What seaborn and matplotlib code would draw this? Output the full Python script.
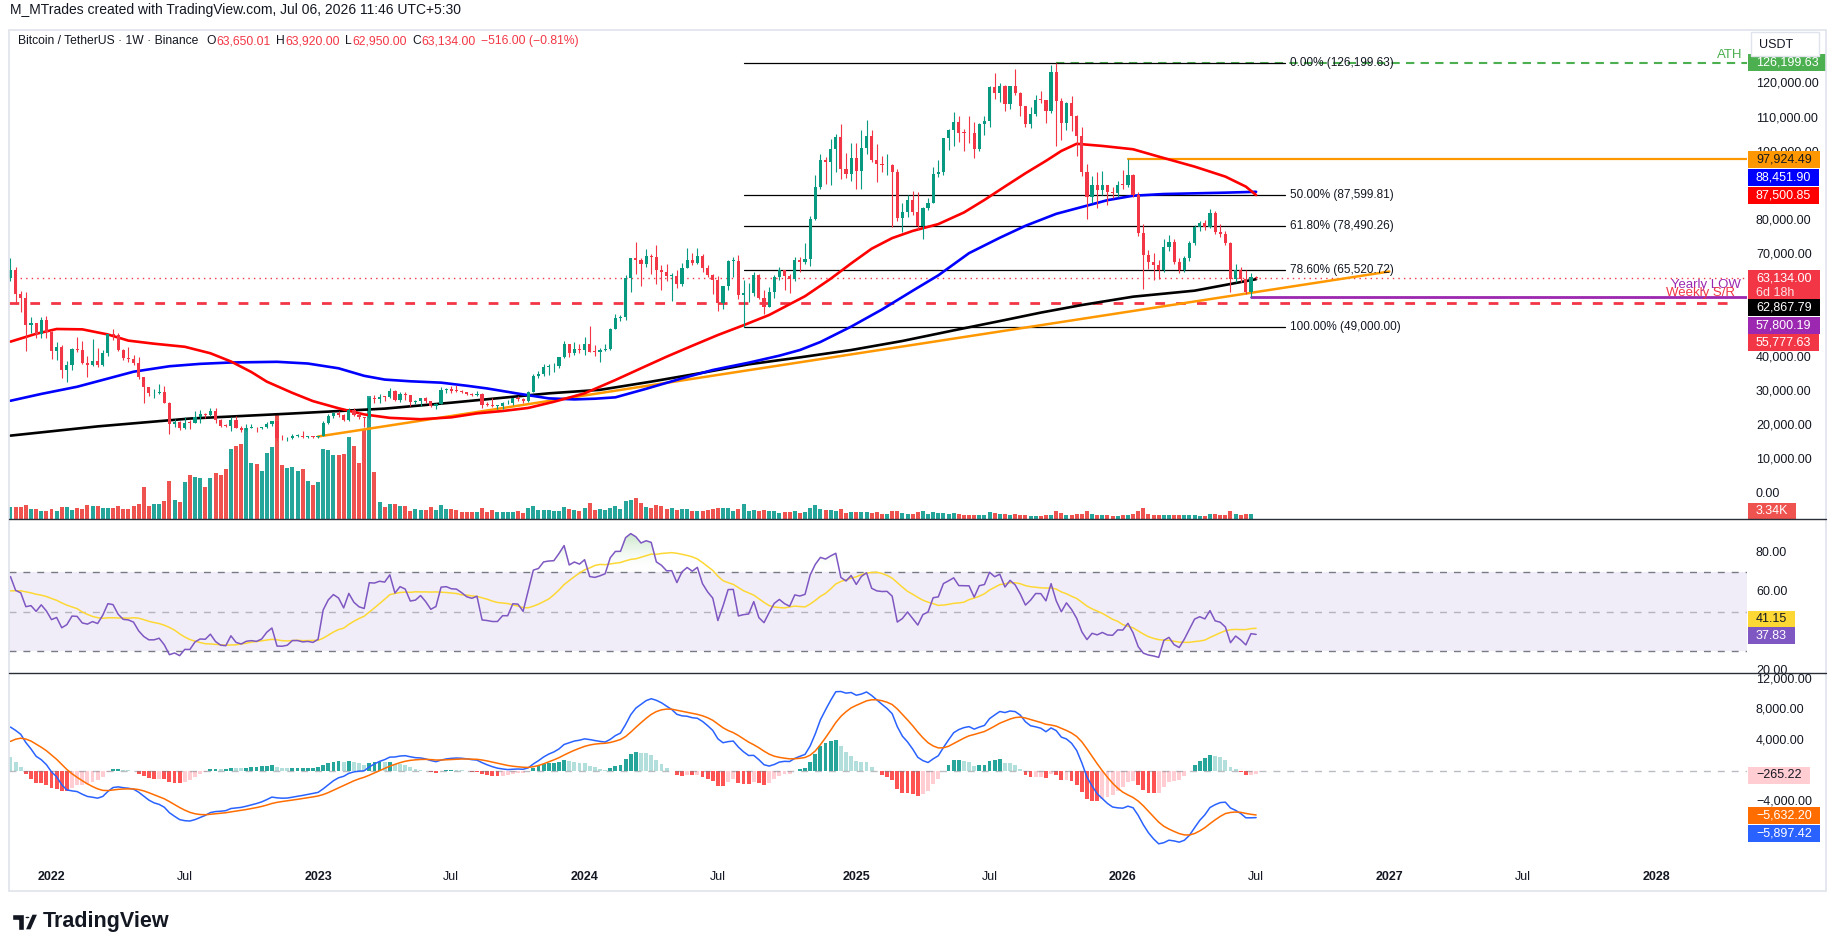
import numpy as np
import pandas as pd
import matplotlib.pyplot as plt
import matplotlib.transforms as mtransforms
from matplotlib.patches import Rectangle, Circle, Polygon
from matplotlib.path import Path
from matplotlib.colors import LinearSegmentedColormap
import seaborn as sns

# ---------------------------------------------------------------- data
START = pd.Timestamp("2021-11-08")      # first weekly candle
first_open = 63300

closes = [
    65500, 58600, 57300, 49400, 50100, 46700, 50800, 47300, 41900, 43100,
    36300, 37900, 42400, 42200, 38400, 37700, 38800, 37800, 41300, 46800,
    46400, 42150, 39700, 39450, 38450, 34300, 31300, 29450, 29450, 29900,
    26600, 20550, 21000, 19300, 20850, 20800, 22600, 23300, 23180, 24300,
    21530, 20050, 19830, 21800, 19420, 18800, 19310, 19420, 19200, 19570,
    20630, 21300, 16330, 16280, 16430, 17100, 17100, 16780, 16840, 16620,
    16950, 20880, 22700, 23750, 23250, 21770, 24600, 23180, 22430, 22150,
    28000, 27950, 28450, 28330, 30300, 27600, 29230, 28850, 26900, 27100,
    28050, 27100, 25850, 26340, 30470, 30600, 30300, 30250, 29800, 29270,
    29070, 29400, 26100, 26000, 25850, 25850, 26530, 26530, 27970, 27930,
    27150, 29990, 34530, 35000, 37050, 37350, 37450, 39970, 43800, 41400,
    42550, 42280, 43950, 41700, 41580, 42030, 42580, 48300, 51650, 51700,
    63120, 68950, 68350, 67200, 69650, 69350, 65650, 64950, 63850, 63900,
    61550, 66250, 68500, 67750, 69650, 66200, 64250, 62700, 55850, 60800,
    68150, 68250, 58150, 58700, 58950, 64200, 57300, 54850, 59150, 63600,
    65600, 63900, 62850, 68350, 67950, 68750, 80370, 89850, 97900, 97300,
    101100, 104450, 95200, 93700, 98300, 94500, 101300, 104700, 97700, 96450,
    96150, 96250, 94250, 80750, 82600, 86100, 82400, 78350, 83750, 85150,
    93750, 94300, 104100, 106450, 109000, 105650, 105600, 105550, 100950, 108350,
    109200, 119100, 117300, 119400, 114250, 119300, 117400, 113500, 108250, 111150,
    115300, 115250, 112150, 123500, 115100, 108650, 114550, 110550, 104700, 94200,
    86800, 90400, 89000, 90300, 88300, 88000, 90500, 90400, 93400, 87500,
    76500, 70000, 68000, 67000, 65600, 72400, 73700, 68000, 65600, 69000,
    73400, 78200, 79400, 78200, 82200, 76800, 76000, 73400, 62800, 65600,
    62800, 59000, 63650.01, 63134.00,
]
highs = [
    69000, 66300, 59500, 59200, 51900, 50100, 51900, 52100, 47600, 44500,
    43500, 38900, 42700, 45850, 44750, 40300, 45400, 42600, 42300, 46950,
    48200, 47200, 42400, 42900, 40800, 40000, 34300, 31300, 30650, 32200,
    31700, 26800, 21850, 21500, 22500, 21650, 24300, 24650, 23650, 25200,
    25200, 21880, 20580, 22500, 22800, 19950, 20400, 20450, 19550, 19700,
    21080, 21480, 21480, 17190, 16810, 17430, 17430, 18400, 17000, 16970,
    17000, 21260, 23370, 23950, 24250, 23430, 25250, 25100, 23880, 22600,
    28400, 28900, 29200, 28800, 31000, 30500, 30000, 29800, 28900, 27650,
    28200, 28450, 27250, 26500, 31400, 31000, 31500, 31800, 30450, 29900,
    29500, 30250, 29650, 26800, 28150, 26100, 27050, 27450, 28050, 28600,
    28000, 30300, 35200, 35980, 37980, 37980, 38450, 40000, 44700, 43850,
    44400, 43800, 45900, 49050, 43580, 42850, 43880, 48600, 52800, 52500,
    64000, 69200, 73780, 68950, 71750, 70300, 72800, 66900, 67200, 64750,
    65500, 67700, 71950, 70600, 71950, 70200, 66900, 64500, 63850, 61000,
    68350, 69400, 70000, 62750, 61800, 65000, 64500, 59800, 60700, 64150,
    66500, 65600, 64500, 69400, 69500, 73600, 81500, 93400, 99600, 98700,
    104000, 105250, 108350, 99950, 102700, 102700, 106400, 109600, 106450, 102500,
    98800, 99500, 96500, 95000, 85300, 87450, 88750, 88500, 84000, 86500,
    95750, 97900, 104300, 106700, 111950, 110700, 106800, 110500, 108900, 108500,
    110500, 119500, 123200, 120250, 119600, 119500, 124450, 117650, 113650, 113400,
    116700, 117900, 115400, 125700, 126199.63, 115950, 114600, 116400, 110800, 107500,
    96650, 93100, 94200, 94500, 90500, 90000, 91500, 94800, 97924.49, 93700,
    88500, 79000, 71500, 70500, 68500, 74500, 75800, 74500, 69000, 69800,
    74000, 78800, 80000, 80200, 83500, 82800, 78900, 77000, 73700, 67200,
    66500, 65500, 64700, 63920,
]
lows = [
    62300, 55600, 53300, 42000, 47100, 45600, 45600, 45700, 39650, 39300,
    34000, 32900, 36250, 41600, 38000, 34300, 37450, 37200, 37600, 40500,
    45200, 42000, 39200, 38500, 37700, 33700, 26700, 28600, 28000, 29300,
    26560, 17600, 19650, 18600, 19000, 18900, 20750, 20700, 22400, 22700,
    20750, 19550, 19550, 18550, 19300, 18150, 18450, 19250, 18200, 18900,
    19250, 20050, 15600, 15800, 15480, 16000, 16750, 16530, 16400, 16330,
    16520, 16900, 20400, 22300, 22500, 21450, 21350, 22800, 21950, 19550,
    21900, 26600, 26500, 27200, 28170, 27100, 26950, 27650, 25800, 26400,
    25900, 26500, 25350, 24800, 26250, 29500, 29700, 29950, 29550, 28850,
    28600, 28700, 25150, 25800, 25350, 24900, 24900, 26350, 26000, 27200,
    26550, 27000, 29900, 34000, 34500, 34800, 35600, 36900, 39950, 40200,
    40550, 41300, 40750, 41500, 40280, 38550, 41850, 42250, 48200, 50500,
    50900, 59000, 64500, 60750, 66400, 64500, 61500, 59600, 62400, 56550,
    60200, 60750, 66100, 67100, 67250, 65050, 63400, 58400, 53500, 54250,
    59700, 63400, 57100, 49000, 56100, 57850, 57200, 52550, 54600, 57500,
    62650, 59800, 58900, 62450, 65050, 67450, 66800, 80200, 89400, 90800,
    90500, 94150, 92200, 92550, 91500, 89250, 89250, 99500, 97100, 91200,
    94100, 93400, 78250, 80000, 76600, 81150, 81600, 77150, 74500, 83100,
    85150, 92800, 93400, 100700, 102000, 103000, 100400, 102700, 98200, 100300,
    105200, 107500, 115700, 114700, 112000, 112650, 116800, 110600, 107300, 107250,
    110600, 114400, 108600, 111550, 102000, 103550, 106650, 106300, 98950, 93000,
    80600, 85300, 83800, 87500, 84500, 86500, 86800, 89200, 90000, 86800,
    75500, 59900, 66000, 62600, 62800, 65000, 71000, 67200, 64800, 65000,
    68300, 72800, 77000, 77300, 77800, 76000, 75200, 72800, 59200, 62000,
    62000, 58500, 57800.19, 62950,
]
volume_k = [
    340, 340, 340, 410, 300, 300, 245, 245, 300, 245,
    360, 360, 270, 330, 300, 410, 390, 390, 330, 330,
    330, 390, 300, 300, 390, 445, 940, 390, 445, 445,
    535, 1115, 560, 505, 1075, 1280, 1230, 1200, 940, 1200,
    1350, 1280, 1465, 2045, 2135, 2190, 2660, 1640, 1610, 1405,
    1930, 2105, 3065, 1580, 1495, 1520, 1405, 1465, 1115, 1000,
    1085, 2045, 2020, 1870, 1870, 1900, 2395, 2135, 1640, 2600,
    3590, 1380, 505, 360, 445, 445, 390, 390, 245, 300,
    270, 270, 360, 270, 415, 300, 300, 270, 215, 215,
    215, 215, 330, 215, 270, 215, 215, 215, 215, 245,
    185, 330, 390, 270, 270, 270, 245, 245, 360, 300,
    270, 245, 330, 475, 270, 300, 260, 330, 380, 300,
    520, 560, 600, 480, 360, 330, 420, 380, 300, 330,
    260, 280, 280, 230, 230, 240, 250, 280, 330, 330,
    310, 220, 300, 450, 240, 250, 220, 250, 240, 220,
    180, 200, 190, 220, 180, 200, 330, 420, 300, 250,
    270, 230, 280, 180, 200, 200, 210, 200, 180, 200,
    150, 140, 230, 230, 180, 140, 140, 190, 220, 150,
    200, 170, 170, 160, 180, 150, 120, 130, 130, 120,
    110, 190, 180, 150, 140, 120, 150, 120, 130, 100,
    100, 100, 110, 130, 230, 180, 120, 110, 150, 160,
    230, 150, 120, 110, 110, 80, 90, 110, 130, 140,
    230, 330, 140, 130, 120, 130, 110, 120, 110, 110,
    120, 110, 100, 100, 140, 140, 110, 120, 240, 150,
    120, 140, 150, 3.34,
]

# moving averages (week index, price)
ma50_idx = [0, 5, 9, 14, 19, 23, 28, 34, 39, 43, 47, 50, 55, 59, 64, 69, 74, 80, 86, 91,
            96, 101, 106, 112, 118, 123, 128, 133, 138, 143, 148, 155, 160, 164, 168, 172,
            176, 181, 186, 190, 194, 198, 202, 205, 208, 213, 219, 224, 231, 237, 241, 243]
ma50_val = [44600, 46900, 48300, 48200, 46700, 44900, 44000, 43100, 41200, 38800, 35700,
            32900, 29600, 27200, 25100, 23300, 22300, 21900, 22450, 23600, 24300, 25200,
            27000, 29470, 33370, 36800, 40200, 43400, 46540, 49400, 52400, 57900, 63000,
            67500, 71800, 74900, 77000, 79000, 82400, 86070, 90000, 93870, 97500, 100400,
            102500, 101870, 100900, 98750, 95820, 92900, 89970, 87500.85]
ma100_idx = [0, 6, 13, 19, 24, 31, 37, 43, 52, 58, 64, 69, 73, 78, 84, 89, 93, 99, 105,
             110, 114, 118, 124, 131, 137, 144, 150, 154, 158, 164, 170, 176, 181, 187,
             193, 198, 204, 209, 214, 219, 225, 231, 237, 243]
ma100_val = [27300, 29300, 31400, 33800, 35800, 37400, 38100, 38500, 38700, 38200, 36800,
             34600, 33500, 33000, 32600, 31700, 30900, 29400, 28000, 27700, 27900, 28300,
             30800, 33860, 36300, 38440, 40500, 42150, 44500, 49000, 54000, 59500, 64000,
             70500, 75000, 78500, 82000, 84000, 86000, 87300, 87800, 88000, 88200, 88451.90]
ma200_idx = [0, 17, 35, 54, 73, 86, 105, 115, 125, 135, 144, 154, 164, 174, 184, 194,
             201, 209, 219, 231, 243]
ma200_val = [17100, 19800, 22100, 23500, 25000, 26740, 29470, 30500, 32900, 35500, 37960,
             40000, 42150, 44800, 47900, 50930, 53100, 55320, 57760, 59520, 62867.79]

trend_idx = [60, 269]
trend_val = [16840, 65130]

fib_names = ["0.00%", "50.00%", "61.80%", "78.60%", "100.00%"]
fib_prices = [126199.63, 87599.81, 78490.26, 65520.72, 49000.00]
fib_from, fib_to = 143, 248.6

ath_idx, ath_price = 204, 126199.63
range_idx, range_high = 218, 97924.49
weekly_sr = 55777.63
low_idx, yearly_low = 242, 57800.19
last_close = 63134.00

rsi_seed = (3200, 1600)          # Wilder avg gain / loss before first bar
rsi_ma_seed = 60
macd_seed = (57500, 52000, 3400)  # ema12, ema26, signal before first bar

# ---------------------------------------------------------------- indicators
close = np.array(closes, float)
opens = np.r_[first_open, close[:-1]]
n = len(close)
x = np.arange(n)

delta = close - opens
ag, al = rsi_seed
rsi = []
for d in delta:
    ag = (ag * 13 + max(d, 0)) / 14
    al = (al * 13 + max(-d, 0)) / 14
    rsi.append(100 - 100 / (1 + ag / al))
rsi = np.array(rsi)
rsi_ma = pd.Series(np.r_[[rsi_ma_seed] * 13, rsi]).rolling(14).mean().to_numpy()[13:]

e12, e26, sig = macd_seed
macd, signal = [], []
for c in close:
    e12 += (c - e12) * 2 / 13
    e26 += (c - e26) * 2 / 27
    m = e12 - e26
    sig += (m - sig) * 2 / 10
    macd.append(m)
    signal.append(sig)
macd, signal = np.array(macd), np.array(signal)
hist = macd - signal

# ---------------------------------------------------------------- style
W, H = 1835, 951
UP, DN = "#089981", "#F23645"
TXT = "#131722"

sns.set_style("white")
plt.rcParams["font.family"] = ["Liberation Sans", "DejaVu Sans"]

fig = plt.figure(figsize=(W / 100, H / 100), dpi=100)
fig.patch.set_facecolor("white")

PX0, PX1, SX1 = 8.5, 1747, 1826
XLIM = ((PX0 - 51.5) / 5.126 + 8, (PX1 - 51.5) / 5.126 + 8)
PANES = {"price": (30, 519), "rsi": (519, 673), "macd": (673, 866)}


def add_pane(top, bottom, x0=PX0, x1=PX1):
    ax = fig.add_axes([x0 / W, 1 - bottom / H, (x1 - x0) / W, (bottom - top) / H])
    ax.axis("off")
    return ax


ax_v = add_pane(*PANES["price"])
ax_p = add_pane(*PANES["price"])
ax_r = add_pane(*PANES["rsi"])
ax_m = add_pane(*PANES["macd"])
for a in (ax_v, ax_p, ax_r, ax_m):
    a.set_xlim(XLIM)

# ---------------------------------------------------------------- volume
vol = np.array(volume_k)
up = close >= opens
ax_v.bar(x, vol, width=0.78, color=np.where(up, "#26A69A", "#EF5350"), lw=0)
ax_v.set_ylim(0, 3590 * 489 / 123)

# ---------------------------------------------------------------- price pane
ax_p.set_ylim(-7300, 135800)

ax_p.axhline(last_close, color=DN, lw=1, ls=(0, (1, 3)), zorder=2)
ax_p.plot([XLIM[0], 337], [weekly_sr] * 2, color=DN, lw=2, ls=(0, (3.5, 4)), zorder=2)
ax_p.plot([ath_idx, XLIM[1]], [ath_price] * 2, color="#4CAF50", lw=1.5,
          ls=(0, (4, 3)), zorder=2)
ax_p.plot([range_idx, XLIM[1]], [range_high] * 2, color="#FF9800", lw=1.6, zorder=2)
ax_p.plot([low_idx, XLIM[1]], [yearly_low] * 2, color="#9C27B0", lw=2, zorder=2)

for name, lvl in zip(fib_names, fib_prices):
    ax_p.plot([fib_from, fib_to], [lvl, lvl], color="black", lw=0.9, zorder=2)
    ax_p.text(fib_to + 1.1, lvl, f"{name} ({lvl:,.2f})", fontsize=8.5, color=TXT,
              va="center", ha="left", zorder=6)

sns.lineplot(x=trend_idx, y=trend_val, ax=ax_p, color="#FF9800", lw=1.8, zorder=3)
sns.lineplot(x=ma200_idx, y=ma200_val, ax=ax_p, color="black", lw=1.9, zorder=3)
sns.lineplot(x=ma100_idx, y=ma100_val, ax=ax_p, color="#0000FF", lw=1.9, zorder=3)
sns.lineplot(x=ma50_idx, y=ma50_val, ax=ax_p, color="#FF0000", lw=1.9, zorder=3)

col = np.where(up, UP, DN)
ax_p.vlines(x, lows, highs, colors=col, lw=0.8, zorder=4)
body_lo = np.minimum(opens, close)
body_h = np.maximum(np.abs(close - opens), 250)
ax_p.bar(x, body_h, bottom=body_lo, width=0.62, color=col, lw=0, zorder=5)

ax_p.text(337.9, ath_price + 400, "ATH", color="#4CAF50", fontsize=9.5,
          ha="right", va="bottom")
ax_p.text(337.5, 61200, "Yearly LOW", color="#9C27B0", fontsize=9.5,
          ha="right", va="center", zorder=6)
ax_p.text(336.5, 58900, "Weekly S/R", color=DN, fontsize=9.5, ha="right",
          va="center", zorder=6)
ax_p.set_xlim(XLIM)

# ---------------------------------------------------------------- RSI pane
ax_r.set_ylim(18.8, 97.1)
ax_r.axhspan(30, 70, color="#7E57C2", alpha=0.1, lw=0)
for lvl, a in ((70, 1.0), (50, 0.5), (30, 1.0)):
    ax_r.axhline(lvl, color="#787B86", lw=1, alpha=a, ls=(0, (5, 5)))


def gradient_fill(ax, xs, ys, level, above, rgba):
    mask = ys > level if above else ys < level
    coll = ax.fill_between(xs, ys, level, where=mask, interpolate=True,
                           color="none", lw=0)
    paths = [p for p in coll.get_paths() if len(p.vertices)]
    if not paths:
        return
    grad = np.linspace(0, 1, 256).reshape(-1, 1)
    if not above:
        grad = grad[::-1]
    cmap = LinearSegmentedColormap.from_list("g", [(1, 1, 1, 0), rgba])
    ext = [XLIM[0], XLIM[1], level, 100] if above else [XLIM[0], XLIM[1], 0, level]
    im = ax.imshow(grad, extent=ext, origin="lower", aspect="auto", cmap=cmap,
                   zorder=2)
    im.set_clip_path(Path.make_compound_path(*paths), transform=ax.transData)


gradient_fill(ax_r, x, rsi, 70, True, (0.30, 0.69, 0.31, 0.75))
gradient_fill(ax_r, x, rsi, 30, False, (0.95, 0.21, 0.27, 0.6))
sns.lineplot(x=x, y=rsi_ma, ax=ax_r, color="#FDD835", lw=1.1, zorder=3)
sns.lineplot(x=x, y=rsi, ax=ax_r, color="#7E57C2", lw=1.1, zorder=4)
ax_r.set_xlim(XLIM)
ax_r.set_ylim(18.8, 97.1)

# ---------------------------------------------------------------- MACD pane
ax_m.set_ylim(-12393, 12787)
ax_m.axhline(0, color="#787B86", lw=1, alpha=0.5, ls=(0, (5, 5)))
prev = np.r_[hist[0], hist[:-1]]
hcol = np.where(hist >= 0,
                np.where(hist > prev, "#26A69A", "#B2DFDB"),
                np.where(hist < prev, "#FF5252", "#FFCDD2"))
ax_m.bar(x, hist, width=0.75, color=hcol, lw=0)
sns.lineplot(x=x, y=macd, ax=ax_m, color="#2962FF", lw=1.1, zorder=3)
sns.lineplot(x=x, y=signal, ax=ax_m, color="#FF6D00", lw=1.1, zorder=3)
ax_m.set_xlim(XLIM)

# ---------------------------------------------------------------- frame & separators
fig.add_artist(Rectangle((PX0 / W, 1 - 891 / H), (SX1 - PX0) / W, (891 - 30) / H,
                         transform=fig.transFigure, fill=False, ec="#E0E3EB", lw=1.2))
for yy in (519, 673):
    fig.add_artist(plt.Line2D([PX0 / W, SX1 / W], [1 - yy / H] * 2, color="#2A2E39",
                              lw=1, transform=fig.transFigure))

# ---------------------------------------------------------------- price scales
renderer = fig.canvas.get_renderer()
ident = mtransforms.IdentityTransform()


def scale_axes(pane_ax, key):
    top, bottom = PANES[key]
    sax = add_pane(top, bottom, PX1, SX1)
    sax.set_xlim(0, 1)
    sax.set_ylim(pane_ax.get_ylim())
    return sax


def y_img(ax, v):
    return H - ax.transData.transform((0, v))[1]


def tick(sax, v, text):
    sax.text(1756, H - y_img(sax, v), text, transform=ident, fontsize=9, color=TXT,
             va="center", ha="left", zorder=2)


def tag(sax, v, lines, fc, tc, shift=0, yimg=None):
    yc = (y_img(sax, v) if yimg is None else yimg) + shift
    lh = 14.5
    texts = []
    for k, s in enumerate(lines):
        yy = yc + k * lh
        t = sax.text(1756, H - yy, s, transform=ident, fontsize=9, color=tc,
                     va="center", ha="left", zorder=6,
                     alpha=0.85 if k else 1)
        texts.append(t)
    wmax = max(t.get_window_extent(renderer).width for t in texts)
    h = 17 + (len(lines) - 1) * lh
    sax.add_patch(Rectangle((1748, H - (yc - 8.5) - h), wmax + 16, h, transform=ident,
                            fc=fc, ec="none", zorder=5))


sax_p = scale_axes(ax_p, "price")
sax_r = scale_axes(ax_r, "rsi")
sax_m = scale_axes(ax_m, "macd")

for v in (120000, 110000, 100000, 80000, 70000, 40000, 30000, 20000, 10000, 0):
    tick(sax_p, v, f"{v:,.2f}")
tag(sax_p, 126199.63, ["126,199.63"], "#4CAF50", "white")
tag(sax_p, 97924.49, ["97,924.49"], "#FF9800", TXT)
tag(sax_p, 88451.90, ["88,451.90"], "#0000FF", "white", shift=-14)
tag(sax_p, 87500.85, ["87,500.85"], "#FF0000", "white")
tag(sax_p, 63134.00, ["63,134.00", "6d 18h"], DN, "white")
tag(sax_p, 62867.79, ["62,867.79"], "black", "white", shift=28.5)
tag(sax_p, 57800.19, ["57,800.19"], "#9C27B0", "white", shift=28.5)
tag(sax_p, 55777.63, ["55,777.63"], DN, "white", shift=39)
tag(sax_p, 0, ["3.34K"], "#EF5350", "white", yimg=511)

for v in (80, 60, 20):
    tick(sax_r, v, f"{v:.2f}")
tag(sax_r, 41.15, ["41.15"], "#FDD835", TXT, shift=-9.7)
tag(sax_r, 37.83, ["37.83"], "#7E57C2", "white")

for v in (12000, 8000, 4000, -4000):
    tick(sax_m, v, f"{v:,.2f}".replace("-", "\u2212"))
tag(sax_m, -265.22, ["\u2212265.22"], "#FFCDD2", TXT, shift=2)
tag(sax_m, -5632.20, ["\u22125,632.20"], "#FF6D00", "white", shift=1)
tag(sax_m, -5897.42, ["\u22125,897.42"], "#2962FF", "white", shift=17)

# USDT box
fig.add_artist(Rectangle((1751 / W, 1 - 56 / H), 68 / W, 24 / H, transform=fig.transFigure,
                         fc="white", ec="#E0E3EB", lw=1))
fig.text(1759 / W, 1 - 44.5 / H, "USDT", fontsize=9, color=TXT, va="center")

# ---------------------------------------------------------------- time axis
tick_dates = ["2022-01-03", "2022-07-04", "2023-01-02", "2023-07-03", "2024-01-01",
              "2024-07-01", "2025-01-06", "2025-07-07", "2026-01-05", "2026-07-06",
              "2027-01-04", "2027-07-05", "2028-01-03"]
tick_text = ["2022", "Jul", "2023", "Jul", "2024", "Jul", "2025", "Jul", "2026", "Jul",
             "2027", "Jul", "2028"]
for d, s in zip(tick_dates, tick_text):
    idx = (pd.Timestamp(d) - START).days / 7
    xp = ax_m.transData.transform((idx, 0))[0]
    fig.text(xp / W, 1 - 877 / H, s, fontsize=9, color=TXT, ha="center", va="center",
             fontweight="bold" if s != "Jul" else "normal")

# ---------------------------------------------------------------- header
fig.text(10 / W, 1 - 10 / H, "M_MTrades created with TradingView.com, Jul 06, 2026 11:46 UTC+5:30",
         fontsize=10, color=TXT, va="center", ha="left")

parts = [("Bitcoin / TetherUS \u00b7 1W \u00b7 Binance", TXT, 8), ("O", TXT, 0),
         ("63,650.01", DN, 6), ("H", TXT, 0), ("63,920.00", DN, 6), ("L", TXT, 0),
         ("62,950.00", DN, 6), ("C", TXT, 0), ("63,134.00", DN, 5),
         ("\u2212516.00 (\u22120.81%)", DN, 0)]
xc = 18
for s, c, gap in parts:
    t = fig.text(xc / W, 1 - 41 / H, s, fontsize=8.7, color=c, va="center", ha="left")
    xc += t.get_window_extent(renderer).width + gap

# ---------------------------------------------------------------- logo
def fpoly(pts, **kw):
    fig.add_artist(Polygon([(px / W, 1 - py / H) for px, py in pts], closed=True,
                           transform=fig.transFigure, **kw))


fpoly([(12, 914), (24, 914), (24, 930), (18, 930), (18, 920), (12, 920)], fc="#131722")
fig.add_artist(Circle((27.5 / W, 1 - 917.5 / H), 2.8 / W, transform=fig.transFigure,
                      fc="#131722"))
fpoly([(25, 930), (31, 930), (38, 914), (32, 914)], fc="#131722")
fig.text(43 / W, 1 - 922 / H, "TradingView", fontsize=15.5, color="#131722",
         fontweight="bold", va="center", ha="left")

fig.savefig("out.png", dpi=100, facecolor="white")
